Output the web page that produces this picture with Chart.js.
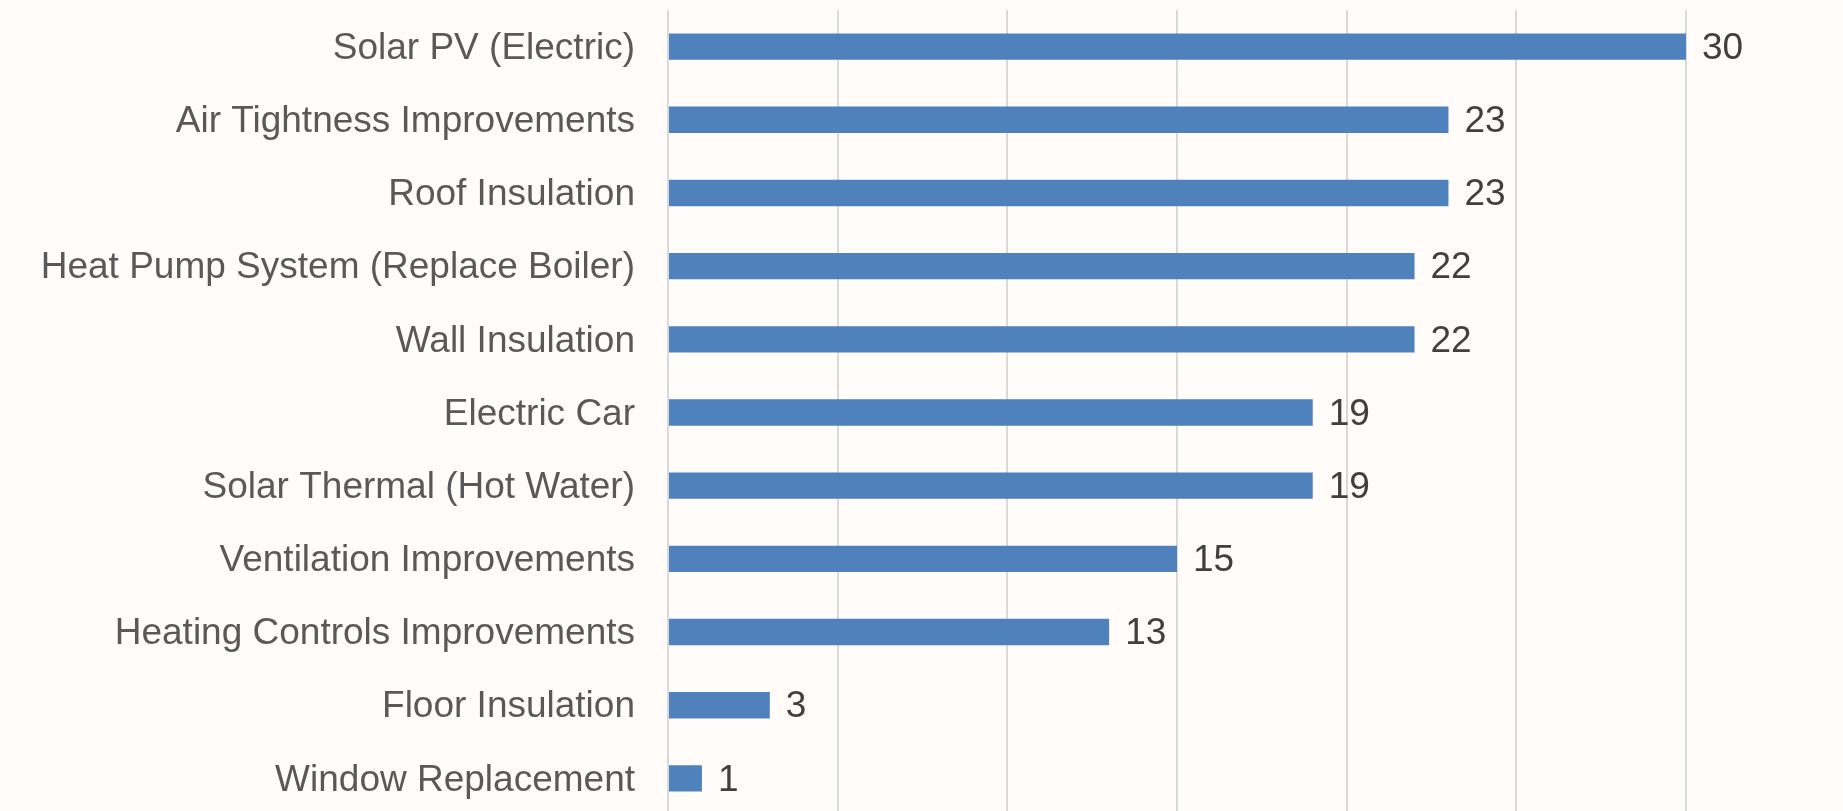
<!DOCTYPE html>
<html>
<head>
<meta charset="utf-8">
<script src="https://cdn.jsdelivr.net/npm/chart.js@4"></script>
<style>
  html, body { margin: 0; padding: 0; background: #fffcf9; overflow: hidden; }
  canvas { display: block; }
</style>
</head>
<body>
<canvas id="measuresChart" width="1843" height="815"></canvas>
<script>
const measures = [
  "Solar PV (Electric)",
  "Air Tightness Improvements",
  "Roof Insulation",
  "Heat Pump System (Replace Boiler)",
  "Wall Insulation",
  "Electric Car",
  "Solar Thermal (Hot Water)",
  "Ventilation Improvements",
  "Heating Controls Improvements",
  "Floor Insulation",
  "Window Replacement",
];
const counts = [30, 23, 23, 22, 22, 19, 19, 15, 13, 3, 1];
const xTicks = [0, 5, 10, 15, 20, 25, 30];

// value labels to the right of each bar
const barLabels = {
  id: "barLabels",
  afterDatasetsDraw(chart) {
    const ctx = chart.ctx;
    const meta = chart.getDatasetMeta(0);
    ctx.save();
    ctx.font = "37px 'Liberation Sans', Arial, sans-serif";
    ctx.fillStyle = "#404040";
    ctx.textAlign = "left";
    ctx.textBaseline = "middle";
    meta.data.forEach((bar, i) => {
      ctx.fillText(String(counts[i]), bar.x + 16, bar.y + 2);
    });
    ctx.restore();
  },
};

const canv = document.getElementById("measuresChart");
new Chart(canv, {
  type: "bar",
  data: {
    labels: measures,
    datasets: [
      {
        data: counts,
        backgroundColor: "#4f81bd",
        categoryPercentage: 1,
        barPercentage: 0.36,
      },
    ],
  },
  options: {
    indexAxis: "y",
    responsive: false,
    animation: false,
    devicePixelRatio: 1,
    layout: { padding: { top: 10, right: 157, bottom: 0, left: 0 } },
    plugins: {
      legend: { display: false },
      tooltip: { enabled: false },
    },
    scales: {
      x: {
        min: 0,
        max: 30,
        afterBuildTicks: (scale) => {
          scale.ticks = xTicks.map((v) => ({ value: v }));
        },
        afterFit: (scale) => {
          scale.height = 0;
          scale.paddingLeft = 0;
          scale.paddingRight = 0;
        },
        ticks: { display: false },
        border: { display: false },
        grid: { color: "#d9d9d9", lineWidth: 2, drawTicks: false },
      },
      y: {
        afterFit: (scale) => {
          scale.width = 668;
          scale.paddingTop = 0;
          scale.paddingBottom = 0;
        },
        border: { display: false },
        grid: { display: false, drawTicks: false },
        ticks: {
          padding: 33,
          labelOffset: 2,
          color: "#595959",
          font: { family: "'Liberation Sans', Arial, sans-serif", size: 37 },
        },
      },
    },
  },
  plugins: [barLabels],
});
</script>
</body>
</html>
